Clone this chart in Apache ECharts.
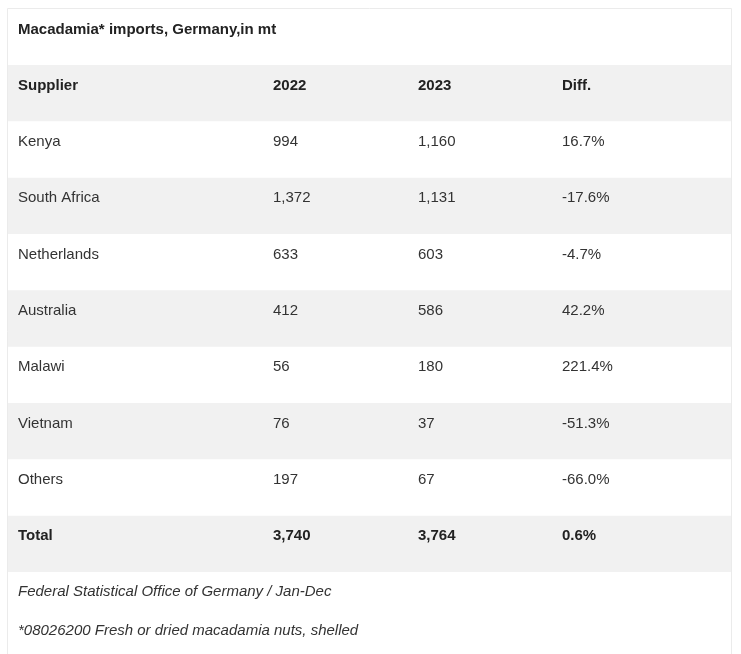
<!DOCTYPE html>
<html>
<head>
<meta charset="utf-8">
<script src="https://cdn.jsdelivr.net/npm/echarts@6/dist/echarts.min.js"></script>
<style>
html,body{margin:0;padding:0;background:#fff;}
#chart{width:741px;height:654px;}
</style>
</head>
<body>
<div id="chart"></div>
<script>
// ---- data ----
var titleText = 'Macadamia* imports, Germany,in mt';
var headers = ['Supplier', '2022', '2023', 'Diff.'];
var suppliers = ['Kenya', 'South Africa', 'Netherlands', 'Australia', 'Malawi', 'Vietnam', 'Others'];
var imports2022 = [994, 1372, 633, 412, 56, 76, 197];
var imports2023 = [1160, 1131, 603, 586, 180, 37, 67];
var diffPct = [16.7, -17.6, -4.7, 42.2, 221.4, -51.3, -66.0];
var totalLabel = 'Total';
var total2022 = 3740;
var total2023 = 3764;
var totalDiff = 0.6;
var sourceNote = 'Federal Statistical Office of Germany / Jan-Dec';
var footNote = '*08026200 Fresh or dried macadamia nuts, shelled';

// ---- build rows ----
function fmtNum(v){ return v.toLocaleString('en-US'); }
function fmtPct(v){ return v.toFixed(1) + '%'; }
var rows = [];
rows.push({cells: headers, bold: true});
for (var i = 0; i < suppliers.length; i++) {
  rows.push({cells: [suppliers[i], fmtNum(imports2022[i]), fmtNum(imports2023[i]), fmtPct(diffPct[i])], bold: false});
}
rows.push({cells: [totalLabel, fmtNum(total2022), fmtNum(total2023), fmtPct(totalDiff)], bold: true});
var rowNames = rows.map(function(r){ return r.cells[0]; });

// layout
var colOffsets = [10, 265, 410, 554];
var FONT = '"Liberation Sans", Arial, Helvetica, sans-serif';

var chart = echarts.init(document.getElementById('chart'));
chart.setOption({
  backgroundColor: '#fff',
  animation: false,
  title: {
    text: titleText,
    left: 18, top: 22, padding: 0,
    textStyle: {fontFamily: FONT, fontSize: 15, fontWeight: 'bold', color: '#222'}
  },
  grid: {left: 8, top: 65, width: 723, height: 507, containLabel: false},
  xAxis: {type: 'value', min: 0, max: 1, show: false},
  yAxis: {type: 'category', inverse: true, data: rowNames, show: false},
  series: [{
    type: 'custom',
    data: rows.map(function(r, idx){ return [0, idx]; }),
    encode: {x: 0, y: 1},
    renderItem: function(params, api){
      var idx = params.dataIndex;
      var row = rows[idx];
      var c = api.coord([0, idx]);
      var h = api.size([0, 1])[1];
      var w = api.size([1, 0])[0];
      var top = c[1] - h / 2;
      var children = [];
      if (idx % 2 === 0) {
        children.push({type: 'rect', shape: {x: c[0], y: top, width: w, height: h}, style: {fill: '#f1f1f1'}, silent: true});
      }
      for (var k = 0; k < row.cells.length; k++) {
        children.push({
          type: 'text',
          style: {
            x: c[0] + colOffsets[k], y: top + 20.5,
            text: row.cells[k],
            fill: row.bold ? '#222' : '#333',
            font: (row.bold ? 'bold ' : '') + '15px ' + FONT,
            verticalAlign: 'middle', align: 'left'
          }
        });
      }
      return {type: 'group', children: children};
    }
  }],
  graphic: [
    {type: 'rect', shape: {x: 7.5, y: 8.5, width: 724, height: 700}, style: {fill: 'none', stroke: '#ebebeb', lineWidth: 1}, silent: true, z: 10},
    {type: 'text', left: 18, top: 584, style: {text: sourceNote, font: 'italic 15px ' + FONT, fill: '#333'}},
    {type: 'text', left: 18, top: 623, style: {text: footNote, font: 'italic 15px ' + FONT, fill: '#333'}}
  ]
});
</script>
</body>
</html>
